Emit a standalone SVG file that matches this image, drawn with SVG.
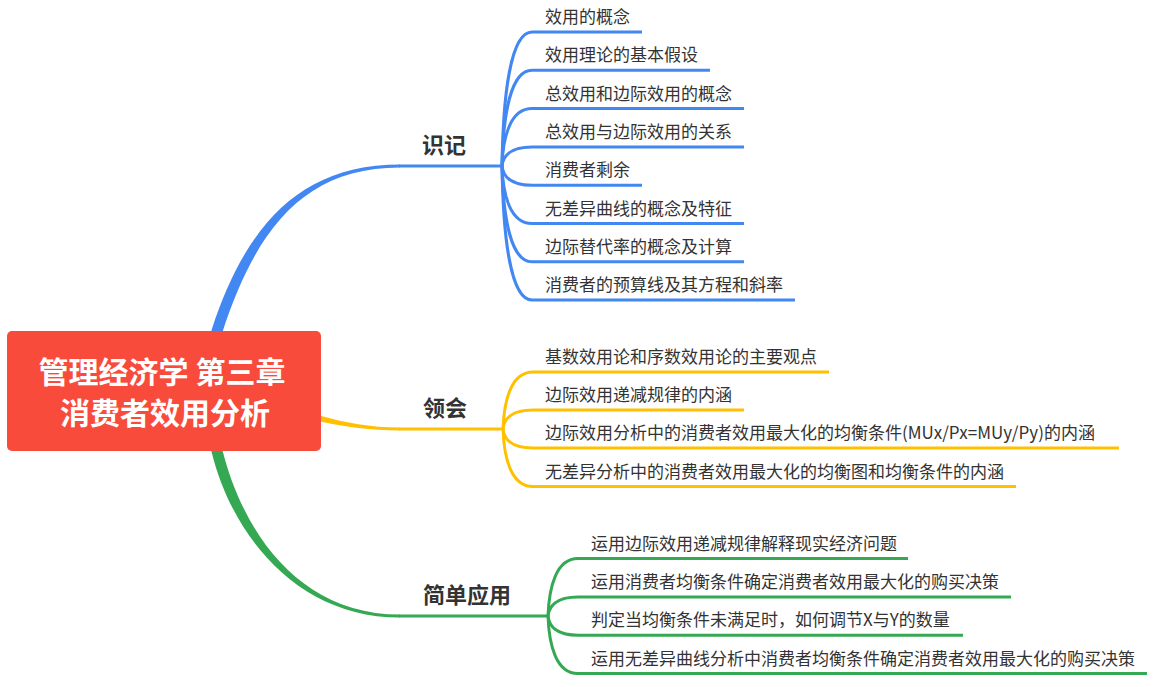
<svg xmlns="http://www.w3.org/2000/svg" width="1156" height="687" viewBox="0 0 1156 687">
<style>
.t{font-family:"Noto Sans CJK SC","Microsoft YaHei","Noto Sans",sans-serif;font-size:17px;fill:#333}
.m{font-family:"Noto Sans CJK SC","Microsoft YaHei","Noto Sans",sans-serif;font-size:22px;font-weight:bold;fill:#333}
.r{font-family:"Noto Sans CJK SC","Microsoft YaHei","Noto Sans",sans-serif;font-size:30px;font-weight:bold;fill:#fff}
.c{fill:none;stroke-width:3;stroke-linecap:butt}
.cb{stroke:#4388F2}.fb{fill:#4388F2}
.cy{stroke:#FFC000}.fy{fill:#FFC000}
.cg{stroke:#34A853}.fg{fill:#34A853}
</style>
<rect width="1156" height="687" fill="#fff"/>
<g id="connectors">
  <!-- main branches -->
  <path class="fb" d="M206 352 L211.8 329.3 C244.8 228.3 298 164.5 400 164.5 L400 167.5 C302 167.5 255.2 231.7 222.2 332.7 L216 352 Z"/>
  <path class="c cb" d="M399 166 H502"/>
  <path class="fy" d="M250 392 L260 395 C300 408 340 427.5 400 427.5 L400 430.5 C340 430.5 300 416 260 405 L250 402 Z"/>
  <path class="c cy" d="M399 429 H503"/>
  <path class="fg" d="M216 430 L222.2 449.3 C243.2 533.3 300 614.5 400 614.5 L400 617.5 C298 617.5 232.8 536.7 211.8 452.7 L206 430 Z"/>
  <path class="c cg" d="M399 616 H548"/>
  <!-- blue children -->
  <path class="c cb" d="M502 166 C503 99 510 32 532 32 H642"/>
  <path class="c cb" d="M502 166 C503 118.2 510 70.3 532 70.3 H710"/>
  <path class="c cb" d="M502 166 C503 137.3 510 108.6 532 108.6 H744"/>
  <path class="c cb" d="M502 166 C503 156.5 510 146.9 532 146.9 H744"/>
  <path class="c cb" d="M502 166 C503 175.6 510 185.2 532 185.2 H642"/>
  <path class="c cb" d="M502 166 C503 194.8 510 223.5 532 223.5 H744"/>
  <path class="c cb" d="M502 166 C503 213.9 510 261.8 532 261.8 H744"/>
  <path class="c cb" d="M502 166 C503 233 510 300 532 300 H795"/>
  <!-- yellow children -->
  <path class="c cy" d="M503 429 C504 400.5 511 372 533 372 H829"/>
  <path class="c cy" d="M503 429 C504 419.5 511 410 533 410 H744"/>
  <path class="c cy" d="M503 429 C504 438.5 511 448 533 448 H1119"/>
  <path class="c cy" d="M503 429 C504 457.8 511 486.5 533 486.5 H1016"/>
  <!-- green children -->
  <path class="c cg" d="M548 616 C549 587.3 556 558.6 578 558.6 H908"/>
  <path class="c cg" d="M548 616 C549 606.5 556 596.9 578 596.9 H1011"/>
  <path class="c cg" d="M548 616 C549 625.6 556 635.2 578 635.2 H963"/>
  <path class="c cg" d="M548 616 C549 644.8 556 673.5 578 673.5 H1147"/>
</g>
<g id="root">
  <rect x="7" y="331" width="314" height="120" rx="5" fill="#F94B3C"/>
  <text class="r" x="162" y="383" text-anchor="middle">管理经济学 第三章</text>
  <text class="r" x="165" y="424" text-anchor="middle">消费者效用分析</text>
</g>
<g id="branch-shiji">
  <text class="m" x="422" y="152.5">识记</text>
</g>
<g id="branch-linghui">
  <text class="m" x="423" y="415.5">领会</text>
</g>
<g id="branch-jiandan">
  <text class="m" x="423" y="602.5">简单应用</text>
</g>
<g id="n-b1"><text class="t" x="545" y="23">效用的概念</text></g>
<g id="n-b2"><text class="t" x="545" y="61.3">效用理论的基本假设</text></g>
<g id="n-b3"><text class="t" x="545" y="99.6">总效用和边际效用的概念</text></g>
<g id="n-b4"><text class="t" x="545" y="137.9">总效用与边际效用的关系</text></g>
<g id="n-b5"><text class="t" x="545" y="176.2">消费者剩余</text></g>
<g id="n-b6"><text class="t" x="545" y="214.5">无差异曲线的概念及特征</text></g>
<g id="n-b7"><text class="t" x="545" y="252.8">边际替代率的概念及计算</text></g>
<g id="n-b8"><text class="t" x="545" y="291">消费者的预算线及其方程和斜率</text></g>
<g id="n-y1"><text class="t" x="545" y="363">基数效用论和序数效用论的主要观点</text></g>
<g id="n-y2"><text class="t" x="545" y="401">边际效用递减规律的内涵</text></g>
<g id="n-y3"><text class="t" x="545" y="439">边际效用分析中的消费者效用最大化的均衡条件(MUx/Px=MUy/Py)的内涵</text></g>
<g id="n-y4"><text class="t" x="545" y="477.5">无差异分析中的消费者效用最大化的均衡图和均衡条件的内涵</text></g>
<g id="n-g1"><text class="t" x="591" y="549.6">运用边际效用递减规律解释现实经济问题</text></g>
<g id="n-g2"><text class="t" x="591" y="587.9">运用消费者均衡条件确定消费者效用最大化的购买决策</text></g>
<g id="n-g3"><text class="t" x="591" y="626.2">判定当均衡条件未满足时，如何调节X与Y的数量</text></g>
<g id="n-g4"><text class="t" x="591" y="664.5">运用无差异曲线分析中消费者均衡条件确定消费者效用最大化的购买决策</text></g>
</svg>
